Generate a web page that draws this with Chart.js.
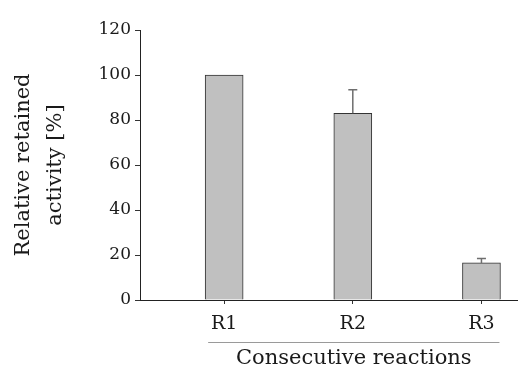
<!DOCTYPE html>
<html><head><meta charset="utf-8">
<script src="https://cdn.jsdelivr.net/npm/chart.js@4"></script>
<style>html,body{margin:0;padding:0;background:#fff;overflow:hidden}#wrap{width:518px;height:372px;position:relative}</style>
</head><body><div id="wrap"><canvas id="c"></canvas></div>
<script>
const categories = ['R1', 'R2', 'R3'];
const activity = [100, 83, 16.5];
const errorUp = [0, 10.5, 2];
const yTicks = [0, 20, 40, 60, 80, 100, 120];
const xTitle = 'Consecutive reactions';
const yTitle = ['Relative retained', 'activity [%]'];

const FONT = '"DejaVu Serif", "Liberation Serif", serif';
const TXT = '#1a1a1a';

const errorBars = {
  id: 'errorBars',
  afterDatasetsDraw(chart) {
    const xs = chart.scales.x, ys = chart.scales.y, ctx = chart.ctx;
    ctx.save();
    ctx.strokeStyle = '#6e6e6e';
    ctx.lineWidth = 1.5;
    activity.forEach((v, i) => {
      if (!errorUp[i]) return;
      const x = xs.getPixelForValue(i + 1);
      const y0 = ys.getPixelForValue(v);
      const y1 = ys.getPixelForValue(v + errorUp[i]);
      ctx.beginPath();
      ctx.moveTo(x, y0); ctx.lineTo(x, y1);
      ctx.moveTo(x - 4.5, y1); ctx.lineTo(x + 4.5, y1);
      ctx.stroke();
    });
    ctx.restore();
  }
};

const xTitlePlugin = {
  id: 'xTitlePlugin',
  afterDraw(chart) {
    const xs = chart.scales.x, ctx = chart.ctx;
    const x1 = xs.getPixelForValue(1) - 16;
    const x2 = xs.getPixelForValue(categories.length) + 18;
    ctx.save();
    ctx.strokeStyle = '#9a9a9a';
    ctx.lineWidth = 1;
    ctx.beginPath();
    ctx.moveTo(x1, 342.5); ctx.lineTo(x2, 342.5);
    ctx.stroke();
    ctx.fillStyle = TXT;
    ctx.font = '21px ' + FONT;
    ctx.textAlign = 'center';
    ctx.textBaseline = 'middle';
    ctx.fillText(xTitle, (x1 + x2) / 2, 359);
    ctx.restore();
  }
};

new Chart(document.getElementById('c'), {
  type: 'bar',
  data: {
    datasets: [{
      data: categories.map((c, i) => ({ x: i + 1, y: activity[i] })),
      backgroundColor: '#c0c0c0',
      borderColor: '#333333',
      borderWidth: 1,
      barThickness: 38
    }]
  },
  options: {
    responsive: true,
    maintainAspectRatio: false,
    animation: false,
    layout: { padding: { top: 30, right: 0, left: 0, bottom: 0 } },
    plugins: { legend: { display: false }, tooltip: { enabled: false } },
    scales: {
      x: {
        type: 'linear',
        offset: false,
        min: 0.346,
        max: 3.284,
        afterBuildTicks: s => { s.ticks = categories.map((c, i) => ({ value: i + 1 })); },
        afterFit: s => { s.height = 72; },
        ticks: {
          callback: v => categories[v - 1],
          font: { family: FONT, size: 19 },
          color: TXT,
          padding: 9,
          maxRotation: 0,
          autoSkip: false
        },
        grid: { offset: false, drawOnChartArea: false, drawTicks: true, tickLength: 4, color: '#333' },
        border: { display: true, color: '#222', width: 1 }
      },
      y: {
        min: 0,
        max: 120,
        afterBuildTicks: s => { s.ticks = yTicks.map(v => ({ value: v })); },
        afterFit: s => { s.width = 140; },
        ticks: {
          font: { family: FONT, size: 17 },
          color: TXT,
          padding: 4
        },
        grid: { drawOnChartArea: false, drawTicks: true, tickLength: 5, color: '#333' },
        border: { display: true, color: '#222', width: 1 },
        title: {
          display: true,
          text: yTitle,
          font: { family: FONT, size: 21, lineHeight: 1.55 },
          color: TXT,
          padding: { top: 7, bottom: 0 }
        }
      }
    }
  },
  plugins: [errorBars, xTitlePlugin]
});
</script>
</body></html>
